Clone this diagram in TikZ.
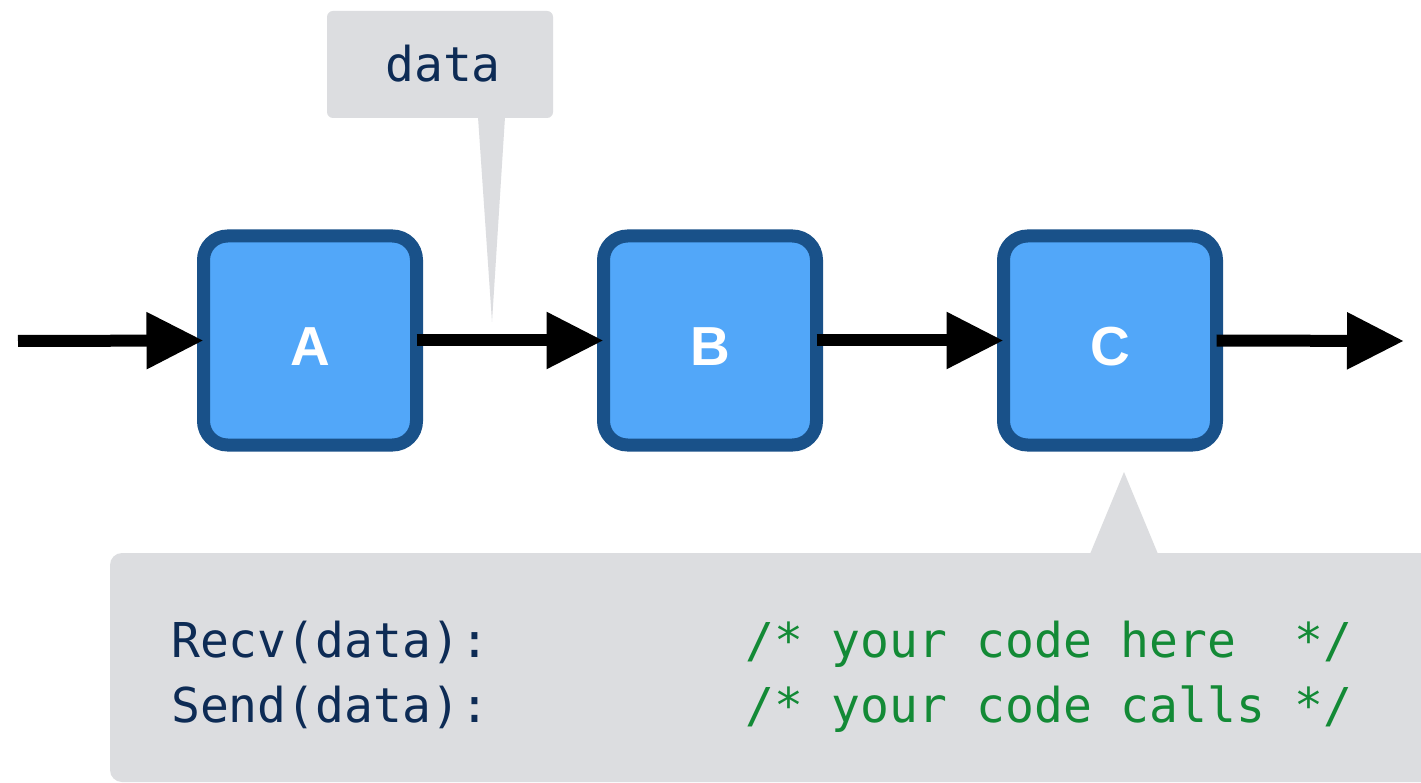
\documentclass[tikz,border=0pt]{standalone}
\usepackage{fontspec}
\setmonofont{DejaVu Sans Mono}
\newfontfamily\labelfont{Liberation Sans}
\usetikzlibrary{arrows.meta}
\definecolor{stageedge}{HTML}{195189}
\definecolor{stagefill}{HTML}{52A7F9}
\definecolor{notegray}{HTML}{DCDDE0}
\definecolor{codenavy}{HTML}{0D2B55}
\definecolor{codegreen}{HTML}{138A36}
\tikzset{
  stagebox/.style={draw=stageedge, fill=stagefill, line width=13pt,
    rounded corners=24pt, minimum width=213pt, minimum height=209pt,
    outer sep=0pt, text=white, text height=51pt, text depth=0pt,
    font=\labelfont\bfseries\fontsize{55}{62}\selectfont},
  flow/.style={line width=12pt, -{Triangle[length=57pt,width=54pt]}},
  notebox/.style={fill=notegray, rounded corners=6pt, inner sep=0pt},
  codetext/.style={anchor=base west, inner sep=0pt,
    font=\ttfamily\fontsize{48}{56}\selectfont},
}
\begin{document}
\begin{tikzpicture}[x=1pt,y=-1pt]
\useasboundingbox (0,0) rectangle (1421,783);
\fill[white] (0,0) rectangle (1421,783);

% pipeline stages
\node[stagebox] (A) at (310,340.5) {A};
\node[stagebox] (B) at (710,340.5) {B};
\node[stagebox] (C) at (1110,340.5) {C};
\coordinate (in) at (18,341);
\coordinate (out) at (1404,341);

% data label with its pointer
\node[notebox, minimum width=226pt, minimum height=107pt] (lbl) at (440,64.5) {};
\node[codetext, text=codenavy, anchor=base] (lbltext) at (443,82) {data};
\coordinate (lblL) at (478,117);
\coordinate (lblR) at (505,117);
\coordinate (lblTip) at (492,322);
\fill[notegray] (lblL) -- (lblR) -- (lblTip) -- cycle;

% code panel with its pointer towards C
\fill[notegray, rounded corners=12pt] (110,553) rectangle (1460,782);
\coordinate (panL) at (1090,554);
\coordinate (panR) at (1158,554);
\coordinate (panTip) at (1124,472);
\fill[notegray] (panL) -- (panR) -- (panTip) -- cycle;
\node[codetext, text=codenavy] (recv) at (171,657) {Recv(data):};
\node[codetext, text=codenavy] (send) at (171,722) {Send(data):};
\node[codetext, text=codegreen] (c1) at (745,657) {/*~your~code~here~~*/};
\node[codetext, text=codegreen] (c2) at (745,722) {/*~your~code~calls~*/};

% connectors
\draw[flow] (in) -- (A.west);
\draw[flow] (A.east) -- (B.west);
\draw[flow] (B.east) -- (C.west);
\draw[flow] (C.east) -- (out);
\end{tikzpicture}
\end{document}
